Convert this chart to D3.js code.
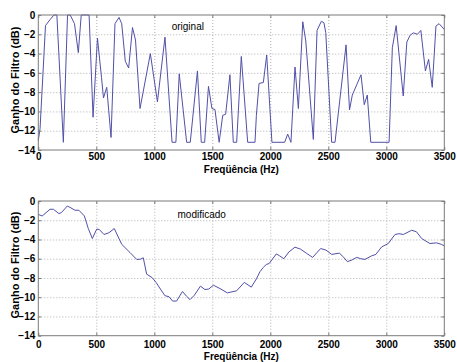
<!DOCTYPE html>
<html>
<head>
<meta charset="utf-8">
<script src="https://cdn.jsdelivr.net/npm/d3@7"></script>
<style>
body { margin: 0; background: #fff; }
svg { display: block; }
text { font-family: "Liberation Sans", Arial, sans-serif; }
</style>
</head>
<body>
<svg id="chart" width="457" height="362"></svg>
<script>
// ---- data ----
const origFreq = [0,15,62,100,135,160,216,252,275,312,345,370,438,472,510,545,562,590,627,661,696,719,750,779,812,838,877,966,1027,1092,1153,1186,1215,1279,1310,1372,1405,1434,1467,1497,1523,1559,1590,1615,1652,1681,1710,1750,1805,1868,1880,1903,1940,1969,2014,2124,2150,2178,2213,2242,2280,2306,2371,2403,2440,2462,2478,2529,2558,2653,2683,2707,2782,2810,2836,2866,3024,3052,3085,3146,3177,3205,3233,3268,3298,3337,3365,3396,3428,3455,3500];
const origGain = [-13.0,-11.8,-1.1,-0.5,0,0,-13.2,0,0,-0.9,-3.9,0,0,-10.6,-2.4,-6.5,-8.6,-7.5,-12.7,-0.9,-0.25,-0.9,-4.8,-5.5,-1.3,-2.6,-9.7,-4.0,-9.0,-2.3,-13.2,-13.2,-6.1,-13.2,-13.2,-5.8,-13.2,-13.2,-7.4,-9.7,-9.8,-13.2,-10.4,-10.3,-6.2,-13.2,-13.2,-4.3,-13.2,-13.2,-10.4,-7.1,-7.0,-4.15,-13.2,-13.2,-12.35,-13.2,-5.4,-9.7,-0.7,-2.7,-12.9,-1.6,-0.65,-0.8,-1.8,-13.2,-13.2,-3.1,-9.85,-8.3,-6.2,-9.3,-8.3,-13.2,-13.2,-3.4,-1.1,-8.4,-2.8,-2.1,-1.85,-2.0,-1.6,-5.8,-4.6,-7.5,-1.15,-0.9,-1.5];

const modFreq = [0,34,101,130,178,200,250,282,316,350,397,431,466,503,525,566,609,655,719,790,848,880,905,934,983,1015,1058,1092,1127,1158,1192,1243,1278,1308,1345,1398,1437,1470,1509,1566,1630,1710,1776,1836,1880,1911,1940,1965,1990,2052,2080,2117,2160,2213,2260,2314,2365,2434,2480,2529,2595,2625,2664,2700,2745,2780,2816,2874,2910,2960,3017,3075,3110,3147,3219,3260,3305,3376,3434,3477,3500];
const modGain = [-1.4,-1.55,-0.86,-0.86,-1.31,-1.2,-0.52,-0.72,-0.96,-0.96,-1.55,-2.86,-3.9,-2.93,-2.95,-3.48,-3.3,-2.86,-4.5,-5.35,-6.07,-6.05,-5.9,-7.6,-7.98,-8.46,-9.25,-9.84,-9.95,-10.4,-10.4,-9.4,-9.9,-10.25,-9.8,-8.85,-9.2,-9.15,-8.75,-9.1,-9.55,-9.33,-8.46,-8.95,-8.1,-7.35,-6.9,-6.6,-6.5,-5.5,-5.7,-6.0,-5.3,-4.8,-5.0,-5.45,-5.86,-4.94,-5.1,-5.55,-5.42,-5.75,-6.3,-6.15,-5.86,-6.0,-6.07,-5.7,-5.55,-4.77,-4.42,-3.48,-3.4,-3.48,-3.04,-3.2,-3.9,-4.42,-4.35,-4.52,-4.66];

const xTicks = [0,500,1000,1500,2000,2500,3000,3500];
const yTicks = [0,-2,-4,-6,-8,-10,-12,-14];
const xLabel = "Freqüência (Hz)";
const yLabel = "Ganho do Filtro (dB)";
const panelNames = ["original", "modificado"];

// ---- drawing ----
const svg = d3.select("#chart");
const x = d3.scaleLinear().domain([0, 3500]).range([38.3, 444.3]);
const fmt = d3.format("d");

const panels = [
  {freq: origFreq, gain: origGain, name: panelNames[0], top: 15, bottom: 150, tickPad: 3, xLabelY: 173, yLabelY: 80, namePos: [1150, -1.55]},
  {freq: modFreq, gain: modGain, name: panelNames[1], top: 201, bottom: 335.7, tickPad: 5.5, xLabelY: 359.5, yLabelY: 265, namePos: [1200, -1.75]}
];

const axisColor = "#7a7a7a";
const lineColor = "#5050a8";

panels.forEach(p => {
  const y = d3.scaleLinear().domain([-14, 0]).range([p.bottom, p.top]);
  const w = x.range()[1] - x.range()[0];
  const h = p.bottom - p.top;
  const g = svg.append("g");

  // grid
  g.append("g")
    .attr("transform", `translate(0,${p.bottom})`)
    .call(d3.axisBottom(x).tickValues(xTicks.slice(1, -1)).tickSize(-h).tickFormat(""))
    .call(s => s.select(".domain").remove())
    .call(s => s.selectAll("line").attr("stroke", "#b0b0b0").attr("stroke-dasharray", "1,2"));
  g.append("g")
    .attr("transform", `translate(${x.range()[0]},0)`)
    .call(d3.axisLeft(y).tickValues(yTicks.slice(1, -1)).tickSize(-w).tickFormat(""))
    .call(s => s.select(".domain").remove())
    .call(s => s.selectAll("line").attr("stroke", "#b0b0b0").attr("stroke-dasharray", "1,2"));

  // data line
  const pts = p.freq.map((f, i) => [f, p.gain[i]]);
  g.append("path")
    .datum(pts)
    .attr("fill", "none")
    .attr("stroke", lineColor)
    .attr("stroke-width", 1)
    .attr("d", d3.line().x(d => x(d[0])).y(d => y(d[1])));

  // box
  g.append("rect")
    .attr("x", x.range()[0]).attr("y", p.top)
    .attr("width", w).attr("height", h)
    .attr("fill", "none").attr("stroke", axisColor).attr("stroke-width", 1);

  // axes with inward ticks
  const bx = g.append("g")
    .attr("transform", `translate(0,${p.bottom})`)
    .call(d3.axisBottom(x).tickValues(xTicks).tickFormat(fmt).tickSizeInner(-3).tickSizeOuter(0).tickPadding(p.tickPad));
  const ly = g.append("g")
    .attr("transform", `translate(${x.range()[0]},0)`)
    .call(d3.axisLeft(y).tickValues(yTicks).tickFormat(fmt).tickSizeInner(-3).tickSizeOuter(0).tickPadding(3));
  g.append("g")
    .attr("transform", `translate(0,${p.top})`)
    .call(d3.axisTop(x).tickValues(xTicks).tickSizeInner(-3).tickSizeOuter(0).tickFormat(""));
  g.append("g")
    .attr("transform", `translate(${x.range()[1]},0)`)
    .call(d3.axisRight(y).tickValues(yTicks).tickSizeInner(-3).tickSizeOuter(0).tickFormat(""));

  g.selectAll(".domain").remove();
  g.selectAll(".tick line").filter(function() { return this.getAttribute("stroke-dasharray") == null; })
    .attr("stroke", axisColor);
  [bx, ly].forEach(a => a.selectAll("text")
    .attr("fill", "#000")
    .style("font-size", "10px")
    .style("font-weight", "bold")
    .style("font-family", "'Liberation Sans', Arial, sans-serif"));

  // x label
  g.append("text")
    .attr("x", 241.3).attr("y", p.xLabelY)
    .attr("text-anchor", "middle")
    .style("font-size", "10px").style("font-weight", "bold")
    .text(xLabel);

  // y label
  g.append("text")
    .attr("transform", `translate(18.8,${p.yLabelY}) rotate(-90)`)
    .attr("text-anchor", "middle")
    .style("font-size", "11px").style("font-weight", "bold")
    .text(yLabel);

  // panel name
  g.append("text")
    .attr("x", x(p.namePos[0])).attr("y", y(p.namePos[1]))
    .style("font-size", "10px")
    .text(p.name);
});
</script>
</body>
</html>
